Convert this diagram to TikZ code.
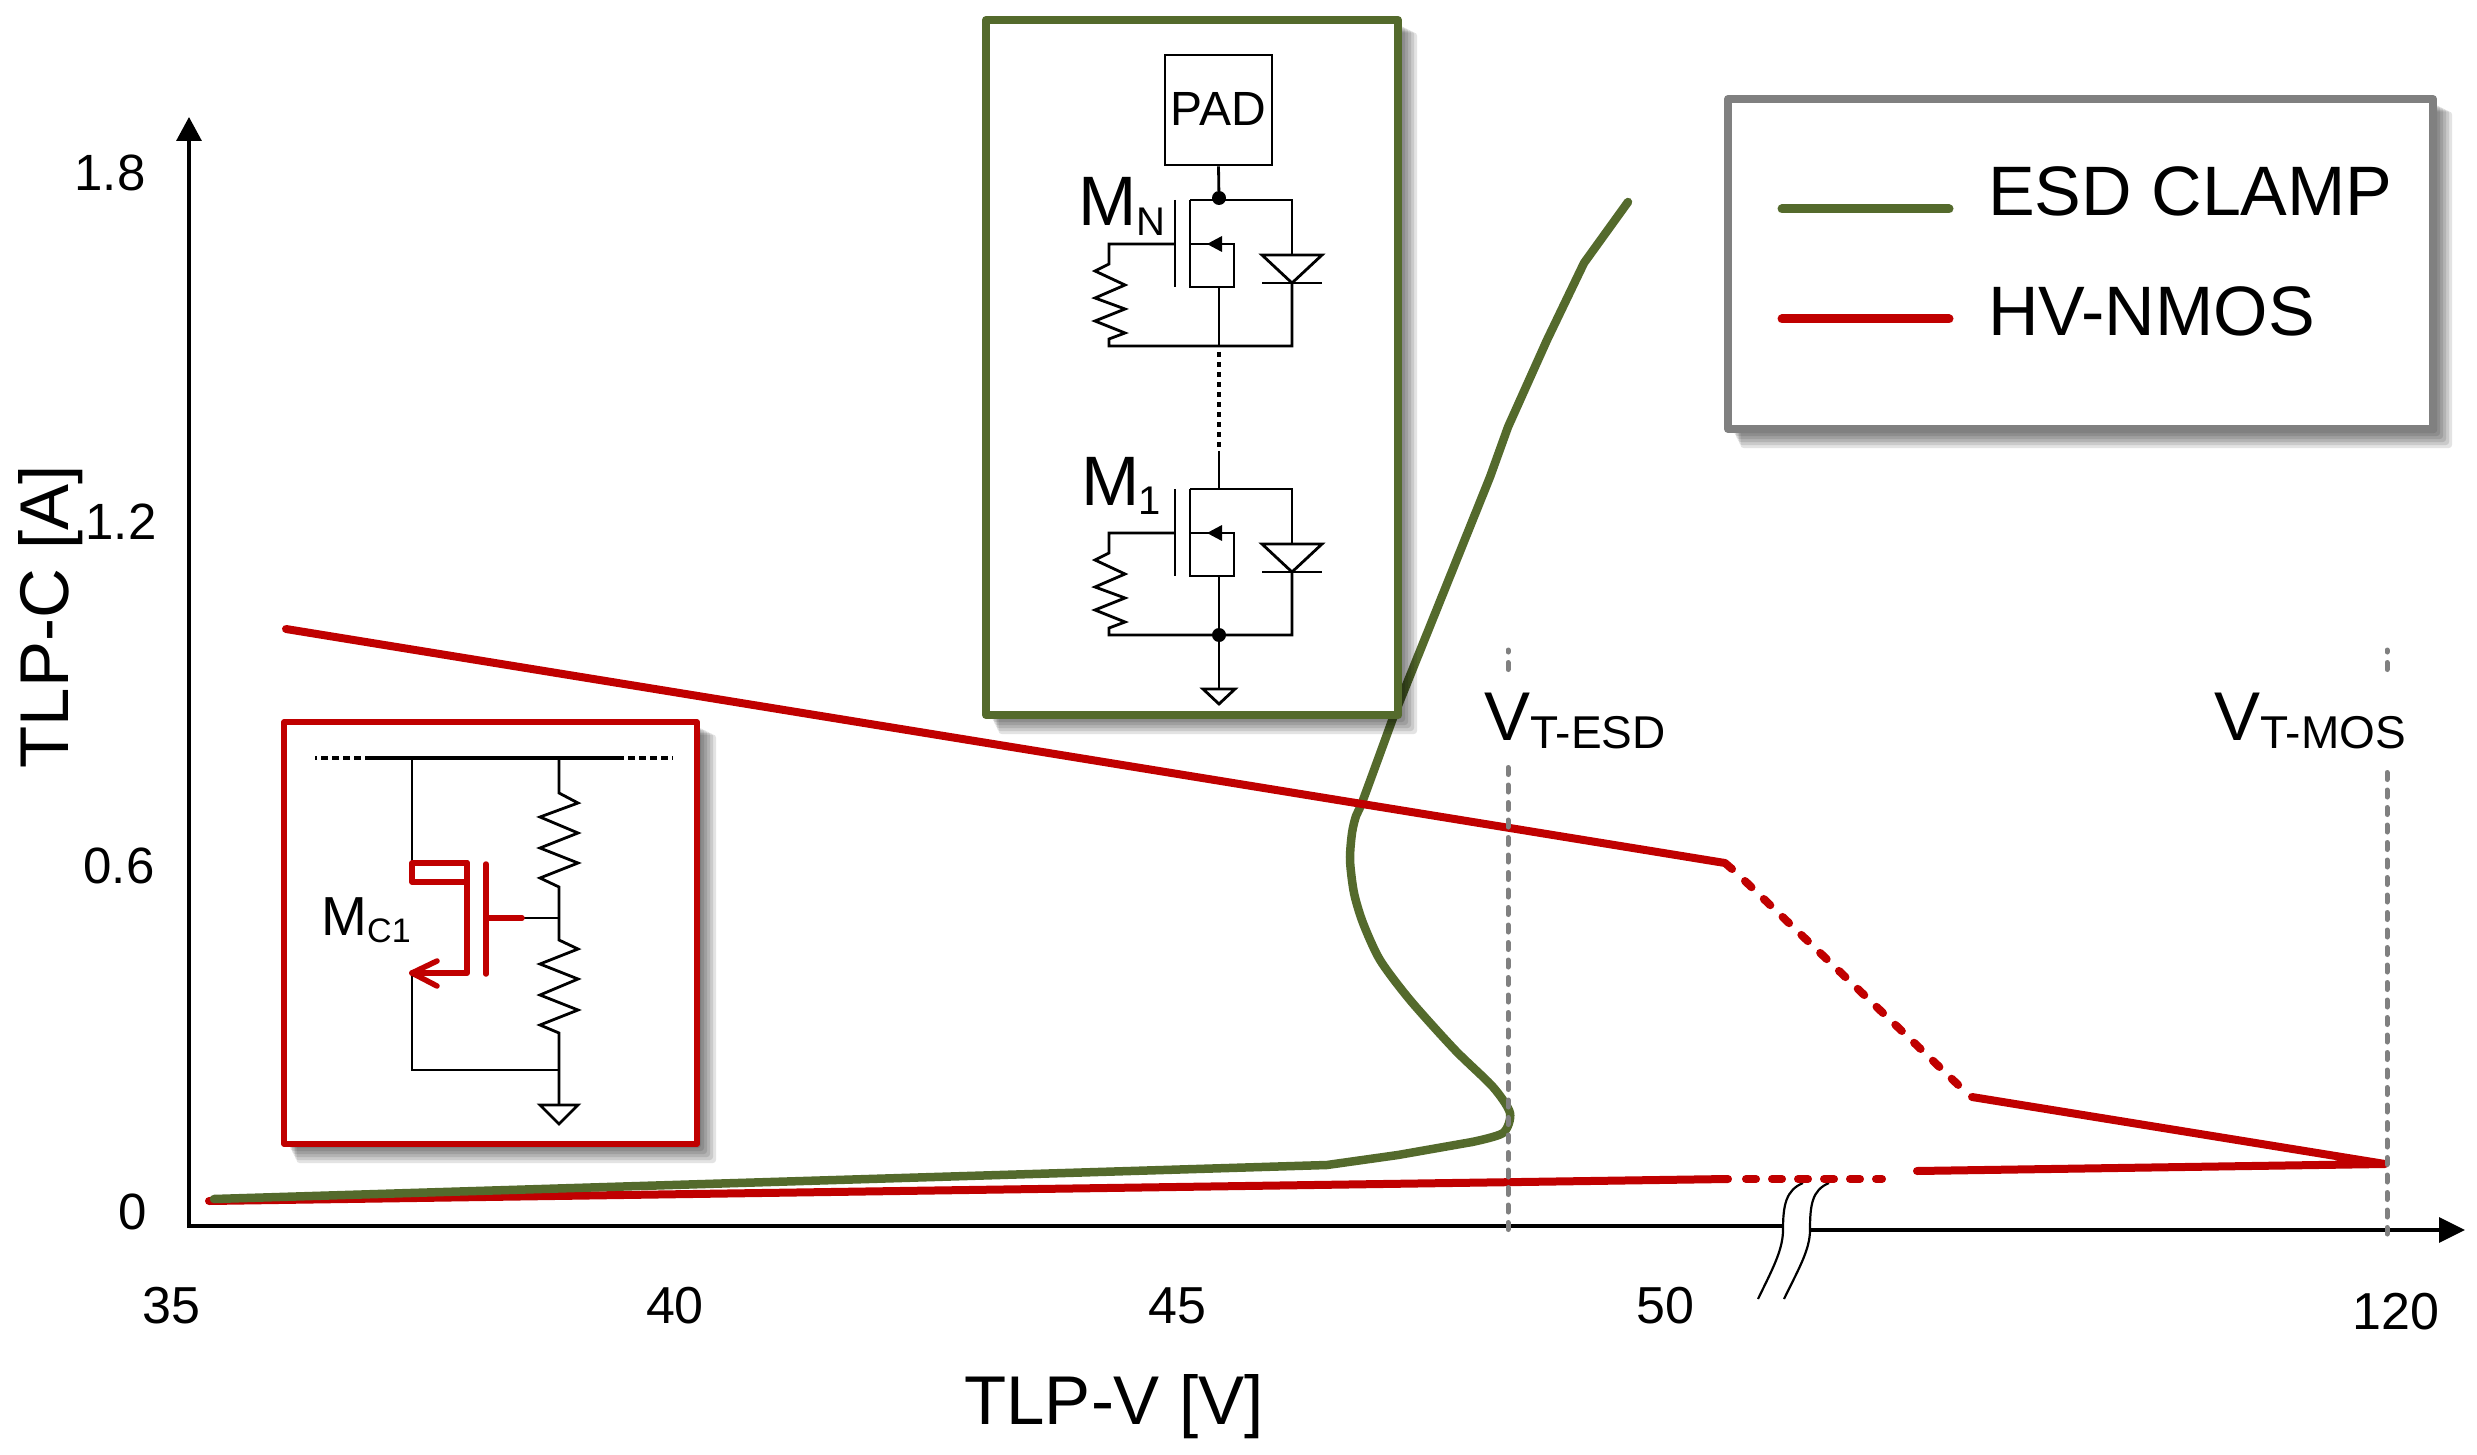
\documentclass[tikz,border=0pt]{standalone}
\usepackage{fontspec}
\setmainfont{Liberation Sans}
\usetikzlibrary{arrows.meta}
\definecolor{grn}{HTML}{546A2C}
\definecolor{rd}{HTML}{C00000}
\definecolor{gry}{HTML}{808080}
\newcommand{\fsz}[1]{\fontsize{#1}{#1}\selectfont}
\tikzset{
  x=1pt,y=-1pt,
  wire/.style={black,line width=2.8pt,line join=miter},
  curve green/.style={grn,line width=8.5pt,line join=round,line cap=round},
  curve red/.style={rd,line width=8pt,line join=round,line cap=round},
  marker/.style={gry,line width=5pt,dash pattern=on 7pt off 10.5pt,line cap=round},
  mosred/.style={rd,line width=5.5pt,line join=round,line cap=round},
  axisline/.style={black,line width=3.4pt},
  txt/.style={inner sep=0pt,text=black},
  dot/.style={circle,fill=black,inner sep=0pt,minimum size=14pt},
  shadowrect/.style={fill=black,fill opacity=0.11,draw=none,rounded corners=3pt},
  framebox/.style={line width=8pt,line join=round,fill=white},
}
\newcommand{\softshadow}[4]{%
  \foreach \d in {4,7,10,13,16,19}{\fill[shadowrect] (#1+\d/2+3,#2+\d/2+3) rectangle (#3+\d,#4+\d);}}
\begin{document}
\begin{tikzpicture}
\useasboundingbox (0,0) rectangle (2477,1455);
\fill[white] (0,0) rectangle (2477,1455);
% axes
\coordinate (yb) at (189,1226);
\coordinate (yt) at (189,117);
\coordinate (xbrkL) at (1783,1226);
\coordinate (xbrkR) at (1810,1230);
\coordinate (xt) at (2465,1230);
\draw[axisline,-{Triangle[length=24pt,width=25pt]}] (yb) -- (yt);
\draw[axisline] (187.3,1226) -- (xbrkL);
\draw[axisline,-{Triangle[length=26pt,width=25pt]}] (xbrkR) -- (xt);
% axis break
\coordinate (b1a) at (1803,1183); \coordinate (b1b) at (1758,1299);
\coordinate (b2a) at (1829,1183); \coordinate (b2b) at (1784,1299);
\fill[white] (1803,1183) .. controls (1786,1190) and (1783,1205) .. (1783,1230) .. controls (1783,1250) and (1772,1270) .. (1758,1299)
  -- (1784,1299) .. controls (1798,1270) and (1810,1250) .. (1810,1230) .. controls (1810,1205) and (1812,1190) .. (1829,1183) -- cycle;
\draw[black,line width=2.2pt] (b1a) .. controls (1786,1190) and (1783,1205) .. (1783,1230) .. controls (1783,1250) and (1772,1270) .. (b1b);
\draw[black,line width=2.2pt] (b2a) .. controls (1812,1190) and (1810,1205) .. (1810,1230) .. controls (1810,1250) and (1798,1270) .. (b2b);
% red curve (under green at the start)
\coordinate (r0) at (209,1201); \coordinate (r1) at (1728,1179);
\coordinate (r2) at (1746,1179); \coordinate (r3) at (1882,1179);
\coordinate (r4) at (1917,1171); \coordinate (r5) at (2385,1164);
\coordinate (r6) at (1972,1097); \coordinate (r7) at (1745,881);
\coordinate (r7b) at (1959.3,1086);
\coordinate (r8) at (1725,863); \coordinate (r8b) at (1732,869);
\coordinate (r9) at (286,629);
\draw[curve red] (r0) -- (r1);
% green curve
\draw[curve green] (214,1199) -- (1327,1165) -- (1398,1155) -- (1472,1142);
\draw[curve green] plot[smooth,tension=0.45] coordinates {(1472,1142) (1503,1133) (1510,1113) (1493,1087) (1455,1050) (1410,1000) (1380,960) (1363,923) (1354,893) (1350,860) (1352,833) (1356,816) (1363,800) (1393,718)};
\draw[curve green] (1393,718) -- (1490,477) -- (1508,427) -- (1547,340) -- (1584,263) -- (1628,202);
% markers
\coordinate (m1t) at (1508,650); \coordinate (m1b) at (1508,1232);
\coordinate (m2t) at (2387,650); \coordinate (m2b) at (2387,1234);
\draw[marker,dash phase=5pt] (m1t) -- (1508,673);
\draw[marker,dash phase=5pt] (m2t) -- (2387,673);
% red curve rest
\draw[rd,line width=8pt,dash pattern=on 10pt off 16pt,line cap=round] (r2) -- (r3);
\draw[curve red] (r4) -- (r5) -- (r6);
\draw[rd,line width=8pt,dash pattern=on 9pt off 17pt,line cap=round] (r7) -- (r7b);
\draw[curve red] (r8b) -- (r8) -- (r9);
% lower markers over the curves
\draw[marker] (1508,767.5) -- (m1b);
\draw[marker] (2387,772.5) -- (m2b);
% tick labels
\node[txt,font=\fsz{51}] (t18) at (110,172.5) {1.8};
\node[txt,font=\fsz{51}] (t12) at (121,522) {1.2};
\node[txt,font=\fsz{51}] (t06) at (119,866) {0.6};
\node[txt,font=\fsz{51}] (t0) at (133,1212) {0};
\node[txt,font=\fsz{52}] (x35) at (171.5,1306) {35};
\node[txt,font=\fsz{52}] (x40) at (675,1306) {40};
\node[txt,font=\fsz{52}] (x45) at (1177,1306) {45};
\node[txt,font=\fsz{52}] (x50) at (1665,1306) {50};
\node[txt,font=\fsz{52}] (x120) at (2396,1312) {120};
\node[txt,font=\fsz{69},rotate=90,anchor=base] (ylab) at (68,617) {TLP-C [A]};
\node[txt,font=\fsz{69}] (xlab) at (1114,1407) {TLP-V [V]};
% V labels
\node[txt,font=\fsz{69},anchor=base west] (vesd) at (1484,740) {V};
\node[txt,font=\fsz{46},anchor=base west] (vesds) at (1530,748) {T-ESD};
\node[txt,font=\fsz{69},anchor=base west] (vmos) at (2214,740) {V};
\node[txt,font=\fsz{46},anchor=base west] (vmoss) at (2260,748) {T-MOS};
% legend
\softshadow{1728}{99}{2433}{429}
\draw[gry,framebox] (1728,99) rectangle (2433,429);
\coordinate (lg1) at (1782,209); \coordinate (lg2) at (1949,209);
\coordinate (lr1) at (1782,319); \coordinate (lr2) at (1949,319);
\draw[grn,line width=9pt,line cap=round] (lg1) -- (lg2);
\draw[rd,line width=9pt,line cap=round] (lr1) -- (lr2);
\node[txt,font=\fsz{70},anchor=base west] (lt1) at (1988,216) {ESD CLAMP};
\node[txt,font=\fsz{70},anchor=base west] (lt2) at (1988,336) {HV-NMOS};
% green box
\softshadow{986}{20}{1398}{715}
\draw[grn,framebox] (986,20) rectangle (1398,715);
\node[draw=black,line width=2.8pt,minimum width=107pt,minimum height=110pt,inner sep=0pt,font=\fsz{48}] (pad) at (1218.5,110) {\raisebox{2.5pt}{PAD}};
\node[dot] (dn) at (1219,198) {};
\node[dot] (d1) at (1219,635) {};
\foreach \oy in {0,289}{
\begin{scope}[yshift=-\oy pt]
\draw[wire] (1219,200) -- (1292,200) -- (1292,255);
\draw[wire] (1190,200) -- (1219,200);
\draw[wire,line join=miter] (1262,255) -- (1322,255) -- (1292,283) -- cycle;
\draw[wire] (1262,283) -- (1322,283);
\draw[wire] (1292,283) -- (1292,346) -- (1109,346) -- (1109,339) -- (1125,333) -- (1095,321) -- (1125,309) -- (1095,298) -- (1125,285) -- (1095,271) -- (1109,264) -- (1109,244) -- (1175,244);
\draw[wire] (1175,200) -- (1175,287);
\draw[wire] (1190,200) -- (1190,287) -- (1234,287) -- (1234,244) -- (1190,244);
\fill[black] (1207,244) -- (1222,236) -- (1222,252) -- cycle;
\draw[wire] (1219,287) -- (1219,346);
\end{scope}}
\draw[wire] (pad.south) -- (dn);
\draw[wire,line width=4pt,dash pattern=on 5pt off 5pt] (1219,352) -- (1219,449);
\draw[wire] (1219,451) -- (1219,489);
\coordinate (gn) at (1219,689);
\draw[wire] (d1) -- (gn);
\draw[wire] (1203,689) -- (1235,689) -- (1219,704) -- cycle;
\node[txt,font=\fsz{70},anchor=base west] (mn) at (1078,226) {M};
\node[txt,font=\fsz{40},anchor=base west] (mns) at (1136,236) {N};
\node[txt,font=\fsz{70},anchor=base west] (m1) at (1081,505) {M};
\node[txt,font=\fsz{40},anchor=base west] (m1s) at (1138,514) {1};
% red box
\softshadow{284}{722}{697}{1144}
\draw[rd,framebox,line width=5.5pt] (284,722) rectangle (697,1144);
\coordinate (tl) at (372,758); \coordinate (tr) at (617,758);
\draw[black,line width=3.5pt] (tl) -- (tr);
\draw[black,line width=3.5pt,dash pattern=on 7pt off 4pt] (372,758) -- (315,758);
\draw[black,line width=3.5pt,dash pattern=on 7pt off 4pt] (617,758) -- (673,758);
\draw[wire] (412,758) -- (412,864);
\draw[wire] (559,758) -- (559,793) -- (578,803) -- (540,817) -- (578,833) -- (540,848) -- (578,863) -- (540,878) -- (559,887) -- (559,940) -- (578,949) -- (540,964) -- (578,979) -- (540,995) -- (578,1010) -- (540,1025) -- (559,1033) -- (559,1105);
\draw[wire] (412,973) -- (412,1070) -- (559,1070);
\draw[wire] (522,918) -- (559,918);
\draw[wire] (540,1105) -- (578,1105) -- (559,1124) -- cycle;
\draw[mosred] (486,864) -- (486,974);
\draw[mosred] (488,918) -- (522,918);
\draw[mosred] (467,863) -- (412,863) -- (412,882) -- (467,882);
\draw[mosred,line width=6pt] (467,863) -- (467,973) -- (412,973);
\draw[mosred] (437,961) -- (412,973) -- (437,986);
\node[txt,font=\fsz{55},anchor=base west] (mc) at (321,935) {M};
\node[txt,font=\fsz{34},anchor=base west] (mcs) at (367,942) {C1};
\end{tikzpicture}
\end{document}
